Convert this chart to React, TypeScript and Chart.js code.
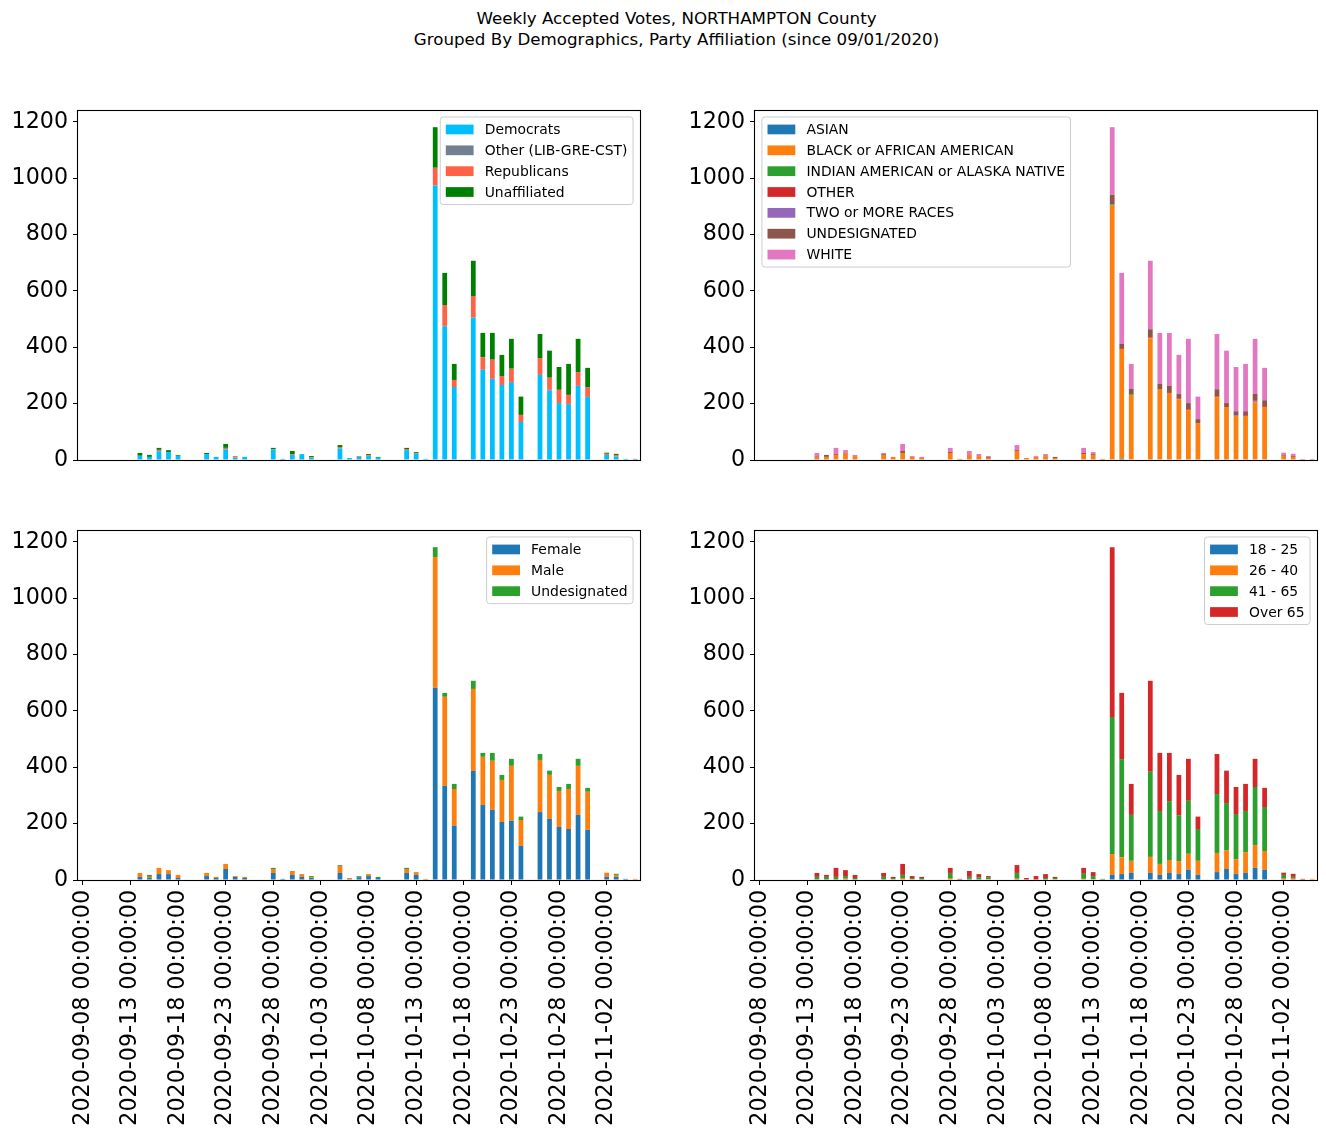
import React, { useEffect, useRef } from 'react';
import { Chart, registerables } from 'chart.js';

Chart.register(...registerables);

const TITLE_1 = 'Weekly Accepted Votes, NORTHAMPTON County';
const TITLE_2 = 'Grouped By Demographics, Party Affiliation (since 09/01/2020)';

const DATES = [
  '2020-09-08', '2020-09-09', '2020-09-10', '2020-09-11', '2020-09-12', '2020-09-13', '2020-09-14', '2020-09-15', '2020-09-16', '2020-09-17',
  '2020-09-18', '2020-09-19', '2020-09-20', '2020-09-21', '2020-09-22', '2020-09-23', '2020-09-24', '2020-09-25', '2020-09-26', '2020-09-27',
  '2020-09-28', '2020-09-29', '2020-09-30', '2020-10-01', '2020-10-02', '2020-10-03', '2020-10-04', '2020-10-05', '2020-10-06', '2020-10-07',
  '2020-10-08', '2020-10-09', '2020-10-10', '2020-10-11', '2020-10-12', '2020-10-13', '2020-10-14', '2020-10-15', '2020-10-16', '2020-10-17',
  '2020-10-18', '2020-10-19', '2020-10-20', '2020-10-21', '2020-10-22', '2020-10-23', '2020-10-24', '2020-10-25', '2020-10-26', '2020-10-27',
  '2020-10-28', '2020-10-29', '2020-10-30', '2020-10-31', '2020-11-01', '2020-11-02', '2020-11-03', '2020-11-04', '2020-11-05',
];

const Y_TICKS = [0, 200, 400, 600, 800, 1000, 1200];

// ---- Party affiliation ----
const DEMOCRATS = [
  0, 0, 0, 0, 0, 0, 15, 11, 31, 28,
  15, 0, 0, 21, 11, 38, 9, 11, 0, 0,
  37, 4, 18, 21, 8, 0, 0, 40, 7, 11,
  14, 8, 0, 0, 35, 22, 4, 974, 473, 259,
  0, 505, 320, 288, 266, 274, 135, 0, 302, 246,
  202, 196, 263, 224, 0, 18, 12, 4, 0,
];
const OTHER_PARTY = [
  0, 0, 0, 0, 0, 0, 0, 0, 0, 0,
  0, 0, 0, 0, 0, 0, 0, 0, 0, 0,
  2, 0, 0, 0, 0, 0, 0, 2, 0, 0,
  0, 0, 0, 0, 0, 0, 0, 0, 3, 0,
  0, 0, 0, 0, 0, 3, 0, 0, 0, 3,
  0, 3, 0, 0, 0, 0, 0, 0, 4,
];
const REPUBLICANS = [
  0, 0, 0, 0, 0, 0, 0, 0, 5, 0,
  0, 0, 0, 0, 0, 5, 5, 0, 0, 0,
  0, 0, 3, 0, 2, 0, 0, 4, 0, 3,
  3, 0, 0, 0, 4, 3, 0, 63, 74, 25,
  0, 77, 45, 68, 32, 47, 25, 0, 58, 43,
  47, 32, 49, 33, 0, 4, 6, 0, 0,
];
const UNAFFILIATED = [
  0, 0, 0, 0, 0, 0, 10, 7, 7, 7,
  3, 0, 0, 4, 0, 14, 0, 0, 0, 0,
  4, 0, 11, 0, 4, 0, 0, 7, 0, 0,
  4, 3, 0, 0, 4, 3, 0, 144, 114, 57,
  0, 125, 86, 95, 75, 106, 65, 0, 87, 96,
  81, 110, 118, 70, 0, 4, 4, 0, 0,
];

// ---- Race ----
const ASIAN = [
  0, 0, 0, 0, 0, 0, 0, 0, 0, 0,
  0, 0, 0, 0, 0, 0, 0, 0, 0, 0,
  0, 0, 0, 0, 0, 0, 0, 0, 0, 0,
  0, 0, 0, 0, 0, 0, 0, 0, 4, 0,
  0, 0, 0, 0, 0, 0, 0, 0, 0, 0,
  0, 0, 0, 0, 0, 0, 0, 0, 0,
];
const BLACK = [
  0, 0, 0, 0, 0, 0, 11, 11, 18, 25,
  14, 0, 0, 18, 11, 25, 11, 7, 0, 0,
  25, 4, 18, 14, 7, 0, 0, 32, 7, 11,
  14, 7, 0, 0, 21, 18, 4, 903, 390, 231,
  0, 432, 252, 238, 216, 177, 131, 0, 223, 188,
  156, 156, 205, 188, 0, 15, 11, 0, 0,
];
const INDIAN = [
  0, 0, 0, 0, 0, 0, 0, 0, 0, 0,
  0, 0, 0, 0, 0, 0, 0, 0, 0, 0,
  0, 0, 0, 0, 0, 0, 0, 0, 0, 0,
  0, 0, 0, 0, 0, 0, 0, 3, 0, 3,
  0, 0, 0, 0, 0, 0, 0, 0, 0, 0,
  0, 0, 0, 0, 0, 0, 0, 0, 0,
];
const OTHER_RACE = [
  0, 0, 0, 0, 0, 0, 0, 0, 0, 0,
  0, 0, 0, 0, 0, 0, 0, 0, 0, 0,
  0, 0, 0, 0, 0, 0, 0, 0, 0, 0,
  0, 0, 0, 0, 0, 0, 0, 0, 3, 0,
  0, 3, 0, 0, 3, 3, 0, 0, 3, 0,
  0, 3, 2, 3, 0, 0, 0, 0, 0,
];
const TWO_OR_MORE = [
  0, 0, 0, 0, 0, 0, 3, 0, 0, 0,
  0, 0, 0, 0, 0, 0, 0, 0, 0, 0,
  0, 0, 0, 0, 0, 0, 0, 0, 0, 0,
  0, 0, 0, 0, 0, 0, 0, 0, 0, 0,
  0, 0, 0, 0, 0, 0, 0, 0, 0, 0,
  3, 0, 3, 0, 0, 0, 0, 0, 0,
];
const UNDESIGNATED_RACE = [
  0, 0, 0, 0, 0, 0, 0, 7, 3, 0,
  0, 0, 0, 3, 0, 7, 0, 0, 0, 0,
  4, 0, 0, 0, 3, 0, 0, 3, 0, 0,
  0, 4, 0, 0, 4, 3, 0, 35, 15, 18,
  0, 29, 18, 25, 15, 22, 14, 0, 25, 14,
  14, 14, 25, 21, 0, 3, 3, 0, 0,
];
const WHITE = [
  0, 0, 0, 0, 0, 0, 11, 0, 22, 10,
  4, 0, 0, 4, 0, 25, 3, 4, 0, 0,
  14, 0, 14, 7, 4, 0, 0, 18, 0, 3,
  7, 0, 0, 0, 18, 7, 0, 240, 252, 89,
  0, 243, 181, 188, 139, 228, 80, 0, 196, 186,
  157, 168, 195, 115, 0, 8, 8, 4, 4,
];

// ---- Gender ----
const FEMALE = [
  0, 0, 0, 0, 0, 0, 11, 7, 21, 21,
  7, 0, 0, 14, 7, 39, 11, 7, 0, 0,
  25, 4, 18, 11, 7, 0, 0, 25, 3, 10,
  14, 7, 0, 0, 25, 18, 0, 682, 334, 193,
  0, 387, 266, 249, 206, 210, 121, 0, 241, 217,
  188, 181, 231, 178, 0, 11, 11, 4, 0,
];
const MALE = [
  0, 0, 0, 0, 0, 0, 14, 4, 22, 14,
  11, 0, 0, 11, 4, 18, 3, 4, 0, 0,
  14, 0, 14, 10, 3, 0, 0, 25, 4, 1,
  7, 0, 0, 0, 14, 10, 4, 464, 316, 130,
  0, 291, 171, 174, 149, 195, 92, 0, 185, 156,
  128, 142, 174, 135, 0, 15, 7, 0, 4,
];
const UNDESIGNATED_GENDER = [
  0, 0, 0, 0, 0, 0, 0, 7, 0, 0,
  0, 0, 0, 0, 0, 0, 0, 0, 0, 0,
  4, 0, 0, 0, 4, 0, 0, 3, 0, 3,
  0, 4, 0, 0, 4, 0, 0, 35, 14, 18,
  0, 29, 14, 28, 18, 25, 12, 0, 21, 15,
  14, 18, 25, 14, 0, 0, 4, 0, 0,
];

// ---- Age ----
const AGE_18_25 = [
  0, 0, 0, 0, 0, 0, 0, 0, 0, 3,
  0, 0, 0, 0, 0, 0, 0, 0, 0, 0,
  0, 0, 4, 3, 0, 0, 0, 3, 0, 0,
  0, 0, 0, 0, 0, 0, 0, 18, 21, 25,
  0, 25, 18, 25, 21, 36, 18, 0, 28, 39,
  21, 25, 43, 36, 0, 3, 3, 0, 0,
];
const AGE_26_40 = [
  0, 0, 0, 0, 0, 0, 0, 0, 0, 4,
  0, 0, 0, 0, 3, 7, 3, 0, 0, 0,
  7, 0, 0, 0, 3, 0, 0, 4, 0, 0,
  0, 3, 0, 0, 4, 3, 0, 74, 60, 43,
  0, 57, 39, 46, 46, 57, 50, 0, 68, 67,
  53, 74, 81, 67, 0, 4, 4, 0, 4,
];
const AGE_41_65 = [
  0, 0, 0, 0, 0, 0, 11, 11, 11, 7,
  7, 0, 0, 11, 4, 11, 4, 7, 0, 0,
  18, 0, 7, 7, 7, 0, 0, 18, 0, 0,
  7, 4, 0, 0, 18, 11, 4, 486, 348, 163,
  0, 302, 188, 209, 163, 188, 113, 0, 209, 167,
  160, 146, 206, 156, 0, 11, 4, 0, 0,
];
const AGE_OVER_65 = [
  0, 0, 0, 0, 0, 0, 14, 7, 32, 21,
  11, 0, 0, 14, 4, 39, 7, 4, 0, 0,
  18, 4, 21, 11, 4, 0, 0, 28, 7, 14,
  14, 4, 0, 0, 21, 14, 0, 603, 235, 110,
  0, 323, 206, 171, 143, 149, 44, 0, 142, 115,
  96, 96, 100, 68, 0, 8, 11, 4, 0,
];

type Series = { label: string; data: number[]; color: string };

const PARTY_SERIES: Series[] = [
  { label: 'Democrats', data: DEMOCRATS, color: '#00bfff' },
  { label: 'Other (LIB-GRE-CST)', data: OTHER_PARTY, color: '#708090' },
  { label: 'Republicans', data: REPUBLICANS, color: '#ff6347' },
  { label: 'Unaffiliated', data: UNAFFILIATED, color: '#008000' },
];
const RACE_SERIES: Series[] = [
  { label: 'ASIAN', data: ASIAN, color: '#1f77b4' },
  { label: 'BLACK or AFRICAN AMERICAN', data: BLACK, color: '#ff7f0e' },
  { label: 'INDIAN AMERICAN or ALASKA NATIVE', data: INDIAN, color: '#2ca02c' },
  { label: 'OTHER', data: OTHER_RACE, color: '#d62728' },
  { label: 'TWO or MORE RACES', data: TWO_OR_MORE, color: '#9467bd' },
  { label: 'UNDESIGNATED', data: UNDESIGNATED_RACE, color: '#8c564b' },
  { label: 'WHITE', data: WHITE, color: '#e377c2' },
];
const GENDER_SERIES: Series[] = [
  { label: 'Female', data: FEMALE, color: '#1f77b4' },
  { label: 'Male', data: MALE, color: '#ff7f0e' },
  { label: 'Undesignated', data: UNDESIGNATED_GENDER, color: '#2ca02c' },
];
const AGE_SERIES: Series[] = [
  { label: '18 - 25', data: AGE_18_25, color: '#1f77b4' },
  { label: '26 - 40', data: AGE_26_40, color: '#ff7f0e' },
  { label: '41 - 65', data: AGE_41_65, color: '#2ca02c' },
  { label: 'Over 65', data: AGE_OVER_65, color: '#d62728' },
];

const FONT = '"DejaVu Sans", "Liberation Sans", sans-serif';
const TICK_FS = 22.2;
const LEG_FS = 13.9;

const framePlugin = {
  id: 'mplFrame',
  afterDatasetsDraw(chart: any) {
    const { ctx, chartArea } = chart;
    ctx.save();
    ctx.strokeStyle = '#000';
    ctx.lineWidth = 1.1;
    const l = Math.round(chartArea.left) - 0.5;
    const t = Math.round(chartArea.top) + 0.5;
    const r = Math.round(chartArea.right) + 0.5;
    const b = Math.round(chartArea.bottom) + 0.5;
    ctx.strokeRect(l, t, r - l, b - t);
    ctx.restore();
  },
};

const legendPlugin = {
  id: 'mplLegend',
  afterDraw(chart: any, _args: any, opts: any) {
    const { ctx, chartArea } = chart;
    const items = chart.data.datasets.map((d: any) => ({ label: d.label, color: d.backgroundColor }));
    const fs = LEG_FS;
    const pad = 0.4 * fs;
    const handleLen = 2 * fs;
    const handleH = 0.7 * fs;
    const textPad = 0.8 * fs;
    const labelSp = 0.5 * fs;
    const axPad = 0.5 * fs;
    const rowH = fs;
    ctx.save();
    ctx.font = `${fs}px ${FONT}`;
    let maxW = 0;
    items.forEach((it: any) => {
      maxW = Math.max(maxW, ctx.measureText(it.label).width);
    });
    const w = 2 * pad + handleLen + textPad + maxW;
    const h = 2 * pad + items.length * rowH + (items.length - 1) * labelSp;
    const x = opts.side === 'left' ? chartArea.left + axPad : chartArea.right - axPad - w;
    const y = chartArea.top + axPad;
    const rad = 3;
    ctx.beginPath();
    ctx.moveTo(x + rad, y);
    ctx.lineTo(x + w - rad, y);
    ctx.quadraticCurveTo(x + w, y, x + w, y + rad);
    ctx.lineTo(x + w, y + h - rad);
    ctx.quadraticCurveTo(x + w, y + h, x + w - rad, y + h);
    ctx.lineTo(x + rad, y + h);
    ctx.quadraticCurveTo(x, y + h, x, y + h - rad);
    ctx.lineTo(x, y + rad);
    ctx.quadraticCurveTo(x, y, x + rad, y);
    ctx.closePath();
    ctx.fillStyle = 'rgba(255,255,255,0.8)';
    ctx.fill();
    ctx.strokeStyle = '#cccccc';
    ctx.lineWidth = 1;
    ctx.stroke();
    ctx.textBaseline = 'middle';
    ctx.textAlign = 'left';
    items.forEach((it: any, i: number) => {
      const cy = y + pad + i * (rowH + labelSp) + rowH / 2;
      ctx.fillStyle = it.color;
      ctx.fillRect(x + pad, cy - handleH / 2, handleLen, handleH);
      ctx.fillStyle = '#000';
      ctx.fillText(it.label, x + pad + handleLen + textPad, cy + 1);
    });
    ctx.restore();
  },
};

type PanelProps = {
  left: number;
  top: number;
  width: number;
  height: number;
  rightPad: number;
  series: Series[];
  showX: boolean;
  legendSide: 'left' | 'right';
};

function Panel({ left, top, width, height, rightPad, series, showX, legendSide }: PanelProps) {
  const ref = useRef<HTMLCanvasElement>(null);
  useEffect(() => {
    if (!ref.current) return;
    const chart = new Chart(ref.current, {
      type: 'bar',
      data: {
        labels: DATES,
        datasets: series.map((s) => ({
          label: s.label,
          data: s.data,
          backgroundColor: s.color,
          borderWidth: 0,
          categoryPercentage: 1,
          barPercentage: 0.5,
        })),
      },
      options: {
        responsive: false,
        maintainAspectRatio: false,
        animation: false,
        layout: { padding: { top: 10, right: rightPad, bottom: showX ? 0 : 10, left: 0 } },
        plugins: {
          legend: { display: false },
          tooltip: { enabled: false },
          title: { display: false },
          mplLegend: { side: legendSide },
        } as any,
        scales: {
          x: {
            stacked: true,
            display: showX,
            offset: true,
            grid: {
              offset: false,
              drawOnChartArea: false,
              drawTicks: true,
              tickLength: 5,
              lineWidth: 1,
              color: (c: any) => (c.index % 5 === 0 ? '#000' : 'rgba(0,0,0,0)'),
            },
            border: { display: false },
            ticks: {
              autoSkip: false,
              minRotation: 90,
              maxRotation: 90,
              padding: 5,
              color: '#000',
              font: { family: FONT, size: TICK_FS },
              callback: (_v: any, i: number) => (i % 5 === 0 ? DATES[i] + ' 00:00:00' : ''),
            },
            afterFit: (s: any) => {
              s.height = showX ? 257 : 0;
              s.paddingLeft = 0;
              s.paddingRight = 0;
              s.paddingTop = 0;
              s.paddingBottom = 0;
            },
          },
          y: {
            stacked: true,
            min: 0,
            max: 1242,
            grid: {
              drawOnChartArea: false,
              drawTicks: true,
              tickLength: 5,
              lineWidth: 1,
              color: '#000',
            },
            border: { display: false },
            ticks: {
              stepSize: 200,
              includeBounds: false,
              padding: 5,
              color: '#000',
              font: { family: FONT, size: TICK_FS },
              callback: (v: any) => (Y_TICKS.includes(Number(v)) ? String(v) : ''),
            },
            afterFit: (s: any) => {
              s.width = 78;
              s.paddingTop = 0;
              s.paddingBottom = 0;
              s.paddingLeft = 0;
              s.paddingRight = 0;
            },
          },
        },
      } as any,
      plugins: [framePlugin, legendPlugin],
    });
    return () => chart.destroy();
  }, []);
  return (
    <canvas
      ref={ref}
      width={width}
      height={height}
      style={{ position: 'absolute', left, top, width, height, display: 'block' }}
    />
  );
}

export default function App() {
  return (
    <div
      style={{
        position: 'absolute',
        left: 0,
        top: 0,
        width: 1326,
        height: 1137,
        overflow: 'hidden',
        background: '#fff',
      }}
    >
      <div
        style={{
          position: 'absolute',
          left: 0,
          top: 8,
          width: 1353,
          textAlign: 'center',
          fontFamily: FONT,
          fontSize: 16.7,
          lineHeight: '21px',
          color: '#000',
        }}
      >
        <div>{TITLE_1}</div>
        <div>{TITLE_2}</div>
      </div>
      <Panel left={0} top={100} width={660} height={370} rightPad={20} series={PARTY_SERIES} showX={false} legendSide="right" />
      <Panel left={677} top={100} width={649} height={370} rightPad={9} series={RACE_SERIES} showX={false} legendSide="left" />
      <Panel left={0} top={520} width={660} height={617} rightPad={20} series={GENDER_SERIES} showX={true} legendSide="right" />
      <Panel left={677} top={520} width={649} height={617} rightPad={9} series={AGE_SERIES} showX={true} legendSide="right" />
    </div>
  );
}
